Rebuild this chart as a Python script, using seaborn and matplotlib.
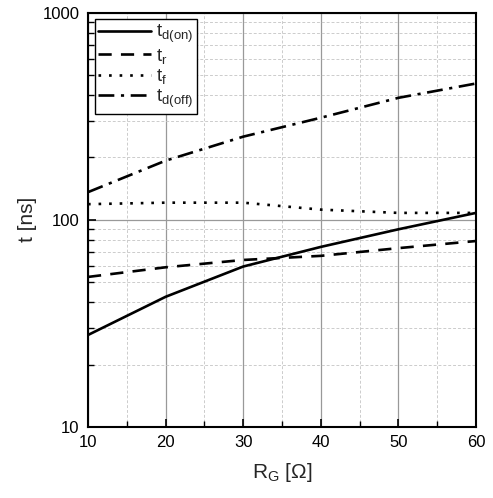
import numpy as np
import pandas as pd
import matplotlib
matplotlib.use("Agg")
import matplotlib.pyplot as plt
from matplotlib.ticker import FixedLocator, NullFormatter
import seaborn as sns

# values
rg = [10, 20, 30, 40, 50, 60]
td_on = [27.8, 42.5, 59.5, 74, 90, 108]
t_r = [53, 59, 64, 67, 73, 79]
t_f = [119, 121, 121, 112, 108, 108]
td_off = [136, 193, 252, 311, 388, 455]

labels = [r"$\mathregular{t_{d(on)}}$", r"$\mathregular{t_r}$",
          r"$\mathregular{t_f}$", r"$\mathregular{t_{d(off)}}$"]
styles = ["-", (0, (5, 3.5)), (0, (1, 3)), (0, (6, 2.5, 1.2, 2.5))]
series = [td_on, t_r, t_f, td_off]

sns.set_theme(style="white")
plt.rcParams['font.family'] = ['Liberation Sans', 'DejaVu Sans']
plt.rcParams['mathtext.fontset'] = 'custom'
plt.rcParams['mathtext.rm'] = 'Liberation Sans'

fig = plt.figure(figsize=(4.93, 4.98), dpi=100)
ax = fig.add_axes([0.1785, 0.1426, 0.787, 0.832])

for vals, lab, ls in zip(series, labels, styles):
    df = pd.DataFrame({"RG": rg, "t": vals})
    sns.lineplot(data=df, x="RG", y="t", ax=ax, color="black", lw=1.9,
                 linestyle=ls, label=lab)

ax.set_yscale("log")
ax.set_xlim(10, 60)
ax.set_ylim(10, 1000)

ax.set_xticks([10, 20, 30, 40, 50, 60])
ax.xaxis.set_minor_locator(FixedLocator([15, 25, 35, 45, 55]))
ax.set_yticks([10, 100, 1000])
ax.set_yticklabels(["10", "100", "1000"])
minors = [k * d for d in (10, 100) for k in range(2, 10)]
ax.yaxis.set_minor_locator(FixedLocator(minors))
ax.yaxis.set_minor_formatter(NullFormatter())

ax.grid(which="major", color="#999999", lw=0.9, ls="-")
ax.grid(which="minor", color="#cccccc", lw=0.7, ls=(0, (3, 2)))
ax.set_axisbelow(True)

ax.tick_params(which="both", direction="in", left=True, bottom=True,
               top=False, right=False, labelsize=12, colors="black")
ax.tick_params(which="major", length=6, width=1.2, pad=6)
ax.tick_params(which="minor", length=4, width=1.0)
for sp in ax.spines.values():
    sp.set_color("black")
    sp.set_linewidth(1.5)

ax.set_xlabel(r"$\mathregular{R_G}$ [Ω]", fontsize=15, labelpad=8)
ax.set_ylabel("t [ns]", fontsize=15, labelpad=4)

leg = ax.legend(loc="upper left", fontsize=13.5, frameon=True, fancybox=False,
                edgecolor="black", framealpha=1, handlelength=2.8,
                handletextpad=0.3, borderpad=0.2, borderaxespad=0.35,
                labelspacing=0.08)
leg.get_frame().set_linewidth(1.0)

fig.savefig("out.png", dpi=100)
